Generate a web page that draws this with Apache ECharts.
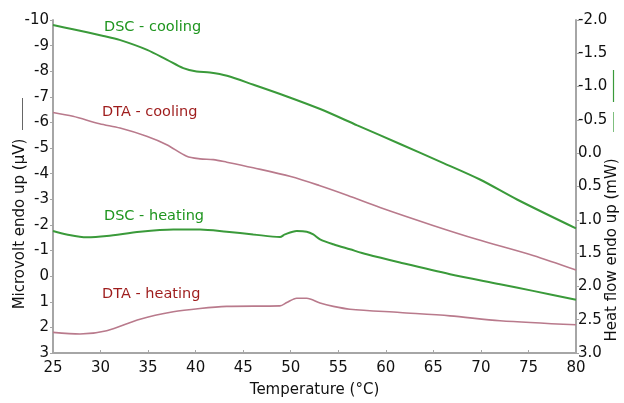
<!DOCTYPE html>
<html>
<head>
<meta charset="utf-8">
<script src="https://cdn.jsdelivr.net/npm/echarts@6/dist/echarts.min.js"></script>
<style>html,body{margin:0;padding:0;background:#fff}#c{width:624px;height:403px}</style>
</head>
<body>
<div id="c"></div>
<script>
// Temperature (°C) / value pairs
const dscCoolT = [25, 27.1, 30.3, 32.0, 34.9, 37.0, 38.7, 40.1, 41.5, 43.3, 46.1, 49.6, 53.1, 57.0, 61.5, 66.0, 69.9, 73.8, 80];
const dscCoolV = [-1.925, -1.861, -1.760, -1.701, -1.551, -1.401, -1.277, -1.226, -1.211, -1.162, -1.027, -0.852, -0.663, -0.418, -0.138, 0.144, 0.395, 0.695, 1.129];

const dtaCoolT = [25, 27.1, 29.9, 32.05, 34.85, 36.96, 39.06, 40.46, 41.86, 43.27, 46.06, 50.0, 53.0, 56.0, 59.39, 64.96, 69.56, 75.48, 80];
const dtaCoolV = [-6.39, -6.24, -5.95, -5.78, -5.46, -5.13, -4.68, -4.58, -4.55, -4.45, -4.23, -3.89, -3.54, -3.15, -2.68, -1.98, -1.44, -0.81, -0.24];

const dscHeatT = [25, 26.44, 28.54, 30.65, 34.15, 37.65, 40.46, 43.27, 46.06, 48.87, 49.39, 50.63, 51.68, 52.37, 53.08, 54.48, 56.23, 57.99, 61.49, 66.75, 72.01, 75.48, 80];
const dscHeatV = [1.169, 1.22, 1.262, 1.243, 1.178, 1.144, 1.144, 1.178, 1.219, 1.259, 1.219, 1.169, 1.178, 1.219, 1.293, 1.368, 1.443, 1.518, 1.642, 1.817, 1.967, 2.067, 2.202];

const dtaHeatT = [25, 27.84, 30.65, 34.15, 37.65, 40.46, 43.27, 48.87, 49.58, 50.63, 51.68, 53.08, 54.48, 56.23, 61.49, 66.75, 72.01, 80];
const dtaHeatV = [2.196, 2.26, 2.13, 1.68, 1.39, 1.26, 1.18, 1.16, 1.03, 0.86, 0.86, 1.05, 1.18, 1.29, 1.42, 1.55, 1.74, 1.90];

const xTicks = [25, 30, 35, 40, 45, 50, 55, 60, 65, 70, 75, 80];
const leftTicks = [-10, -9, -8, -7, -6, -5, -4, -3, -2, -1, 0, 1, 2, 3];
const rightTicks = [-2.0, -1.5, -1.0, -0.5, 0.0, 0.5, 1.0, 1.5, 2.0, 2.5, 3.0];

const zip = (a, b) => a.map((t, i) => [t, b[i]]);
const FONT = 'DejaVu Sans';
const GREEN = '#3a9a3a', PINK = '#b97a8c';
const axisGray = '#a6a6a6';

const chart = echarts.init(document.getElementById('c'), null, {renderer: 'canvas'});
chart.setOption({
  animation: false,
  grid: {left: 53, right: 48, top: 20, bottom: 49},
  xAxis: {
    type: 'value', min: xTicks[0], max: xTicks[xTicks.length - 1], interval: 5,
    axisLine: {onZero: false, lineStyle: {color: axisGray, width: 2}},
    axisTick: {show: true, inside: true, length: 3, lineStyle: {color: axisGray}},
    axisLabel: {color: '#111', fontFamily: FONT, fontSize: 15, margin: 8},
    splitLine: {show: false},
    name: 'Temperature (°C)', nameLocation: 'middle', nameGap: 30,
    nameTextStyle: {color: '#111', fontFamily: FONT, fontSize: 15}
  },
  yAxis: [{
    type: 'value', min: leftTicks[0], max: leftTicks[leftTicks.length - 1], interval: 1, inverse: true,
    axisLine: {show: true, onZero: false, lineStyle: {color: axisGray, width: 2}},
    axisTick: {show: true, length: 3, lineStyle: {color: axisGray}},
    axisLabel: {color: '#111', fontFamily: FONT, fontSize: 15, margin: 4},
    splitLine: {show: false}
  }, {
    type: 'value', min: rightTicks[0], max: rightTicks[rightTicks.length - 1], interval: 0.5, inverse: true, position: 'right',
    axisLine: {show: true, onZero: false, lineStyle: {color: axisGray, width: 2}},
    axisTick: {show: true, length: 3, lineStyle: {color: axisGray}},
    axisLabel: {color: '#111', fontFamily: FONT, fontSize: 15, margin: 2,
      formatter: v => v.toFixed(1)},
    splitLine: {show: false}
  }],
  series: [
    {name: 'DSC - cooling', type: 'line', yAxisIndex: 1, data: zip(dscCoolT, dscCoolV), smooth: 0.3, symbol: 'none', lineStyle: {color: GREEN, width: 2}},
    {name: 'DTA - cooling', type: 'line', yAxisIndex: 0, data: zip(dtaCoolT, dtaCoolV), smooth: 0.3, symbol: 'none', lineStyle: {color: PINK, width: 1.6}},
    {name: 'DSC - heating', type: 'line', yAxisIndex: 1, data: zip(dscHeatT, dscHeatV), smooth: 0.3, symbol: 'none', lineStyle: {color: GREEN, width: 2}},
    {name: 'DTA - heating', type: 'line', yAxisIndex: 0, data: zip(dtaHeatT, dtaHeatV), smooth: 0.3, symbol: 'none', lineStyle: {color: PINK, width: 1.6}}
  ],
  graphic: [
    {type: 'text', left: 104, top: 20, style: {text: 'DSC - cooling', fill: '#1f951f', font: '14.5px "DejaVu Sans"'}},
    {type: 'text', left: 102, top: 105, style: {text: 'DTA - cooling', fill: '#9e1c1c', font: '14.5px "DejaVu Sans"'}},
    {type: 'text', left: 104, top: 209, style: {text: 'DSC - heating', fill: '#1f951f', font: '14.5px "DejaVu Sans"'}},
    {type: 'text', left: 102, top: 287, style: {text: 'DTA - heating', fill: '#9e1c1c', font: '14.5px "DejaVu Sans"'}},
    {type: 'text', x: 20, y: 224, rotation: Math.PI / 2,
      style: {text: 'Microvolt endo up (µV)', fill: '#111', font: '15px "DejaVu Sans"', align: 'center', verticalAlign: 'middle'}},
    {type: 'text', x: 612, y: 250, rotation: Math.PI / 2,
      style: {text: 'Heat flow endo up (mW)', fill: '#111', font: '15px "DejaVu Sans"', align: 'center', verticalAlign: 'middle'}},
    {type: 'line', shape: {x1: 22.5, y1: 98, x2: 22.5, y2: 130}, style: {stroke: '#666', lineWidth: 1}},
    {type: 'line', shape: {x1: 613.5, y1: 70, x2: 613.5, y2: 102}, style: {stroke: GREEN, lineWidth: 1.2}},
    {type: 'line', shape: {x1: 613.5, y1: 112, x2: 613.5, y2: 132}, style: {stroke: '#7fbf7f', lineWidth: 1}}
  ]
});
</script>
</body>
</html>
